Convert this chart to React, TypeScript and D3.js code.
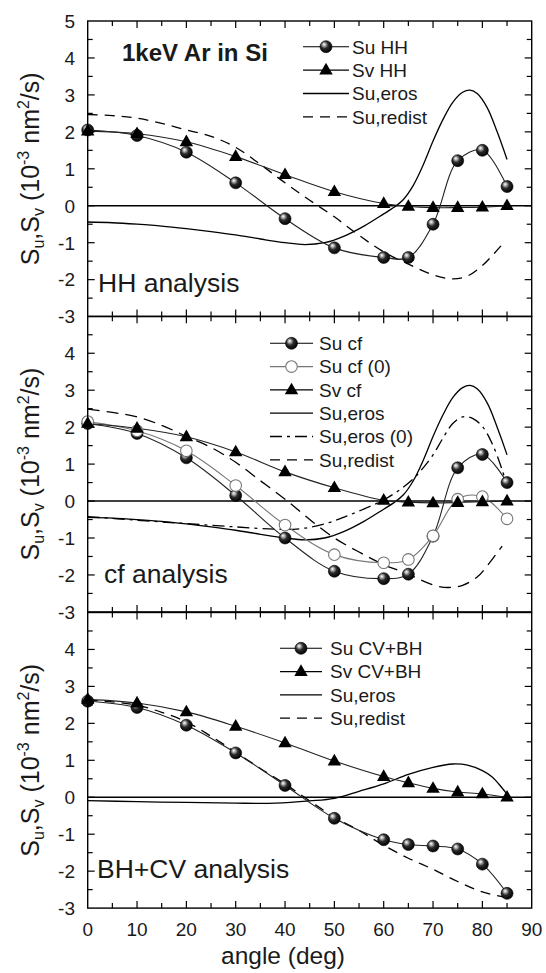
import React, { useEffect, useRef } from 'react';
import * as d3 from 'd3';

// measured angles (deg)
const angles = [0, 10, 20, 30, 40, 50, 60, 65, 70, 75, 80, 85];

// HH analysis
const suHH = [2.05, 1.9, 1.45, 0.62, -0.35, -1.14, -1.4, -1.4, -0.5, 1.22, 1.5, 0.52];
const svHH = [2.02, 1.95, 1.73, 1.33, 0.84, 0.38, 0.06, -0.02, -0.05, -0.05, -0.04, 0.0];

// cf analysis
const suCf = [2.1, 1.83, 1.17, 0.15, -1.0, -1.9, -2.1, -1.98, -0.95, 0.9, 1.26, 0.5];
const suCf0 = [2.15, 1.9, 1.36, 0.42, -0.65, -1.45, -1.67, -1.58, -0.94, 0.05, 0.12, -0.48];
const svCf = [2.1, 1.97, 1.74, 1.33, 0.79, 0.36, 0.02, -0.03, -0.05, -0.04, -0.02, 0.0];

// BH+CV analysis
const suBH = [2.6, 2.43, 1.95, 1.2, 0.32, -0.57, -1.15, -1.28, -1.32, -1.4, -1.81, -2.6];
const svBH = [2.65, 2.55, 2.31, 1.92, 1.47, 0.98, 0.56, 0.39, 0.24, 0.14, 0.09, 0.0];

// theory curves [angle, value]
const erosA: [number, number][] = [
  [0, -0.44], [5, -0.46], [10, -0.5], [15, -0.55], [20, -0.62], [25, -0.7], [30, -0.79],
  [35, -0.9], [40, -1.0], [44, -1.05], [48, -1.0], [52, -0.82], [56, -0.55], [60, -0.22],
  [62, -0.05], [64, 0.17], [66, 0.55], [68, 1.1], [70, 1.75], [72, 2.33], [74, 2.8],
  [76, 3.07], [77.5, 3.13], [79, 3.03], [81, 2.65], [83, 2.0], [85, 1.25],
];
const eros0: [number, number][] = [
  [0, -0.42], [10, -0.52], [20, -0.61], [30, -0.7], [38, -0.76], [43, -0.75], [48, -0.62],
  [53, -0.38], [58, -0.1], [60, 0.03], [63, 0.28], [66, 0.6], [68, 0.9], [70, 1.25],
  [72, 1.7], [74, 2.1], [76, 2.28], [78, 2.24], [80, 2.02], [82, 1.55], [84, 0.85], [85, 0.4],
];
const erosBH: [number, number][] = [
  [0, -0.09], [10, -0.12], [20, -0.14], [30, -0.16], [38, -0.16], [45, -0.1], [50, -0.03],
  [55, 0.16], [60, 0.36], [65, 0.62], [70, 0.81], [74, 0.9], [77, 0.87], [80, 0.72],
  [82, 0.55], [84, 0.25], [85, 0.08],
];
const redistHH: [number, number][] = [
  [0, 2.47], [5, 2.44], [10, 2.37], [15, 2.23], [20, 2.05], [25, 1.88], [30, 1.58],
  [35, 1.12], [40, 0.62], [45, 0.15], [50, -0.3], [55, -0.8], [60, -1.25], [65, -1.58],
  [70, -1.87], [74, -1.98], [77, -1.9], [80, -1.62], [82, -1.35], [84, -1.05],
];
const redistCf: [number, number][] = [
  [0, 2.49], [5, 2.4], [10, 2.28], [15, 2.05], [20, 1.75], [25, 1.45], [30, 1.05],
  [35, 0.55], [40, 0.05], [45, -0.5], [50, -1.0], [55, -1.38], [60, -1.72], [65, -1.98],
  [70, -2.27], [73, -2.34], [76, -2.28], [79, -2.05], [81, -1.75], [83, -1.4], [84, -1.22],
];
const redistBH: [number, number][] = [
  [0, 2.63], [5, 2.58], [10, 2.49], [15, 2.3], [20, 2.04], [25, 1.65], [30, 1.22],
  [35, 0.78], [40, 0.36], [45, -0.1], [50, -0.54], [55, -0.9], [60, -1.3], [65, -1.65],
  [70, -1.95], [75, -2.28], [80, -2.56], [85, -2.72],
];

const xTicks = [0, 10, 20, 30, 40, 50, 60, 70, 80, 90];

const font = 'Liberation Sans, Arial, Helvetica, sans-serif';
const ink = '#1a1a1a';

const panels = [
  {
    top: 21, label: 'HH analysis', labelX: 98, labelY: 292,
    yLabels: [5, 4, 3, 2, 1, 0, -1, -2, -3],
    curves: [{ pts: erosA, dash: null }, { pts: redistHH, dash: '10,7' }],
    series: [{ v: suHH, kind: 'ball' }, { v: svHH, kind: 'tri' }],
    legend: { x0: 303, x1: 349, tx: 352, y0: 46.7, dy: 23.4 },
    items: [['ball', 'Su HH'], ['tri', 'Sv HH'], ['solid', 'Su,eros'], ['dash', 'Su,redist']],
  },
  {
    top: 316.3, label: 'cf analysis', labelX: 104, labelY: 583,
    yLabels: [4, 3, 2, 1, 0, -1, -2, -3],
    curves: [{ pts: erosA, dash: null }, { pts: eros0, dash: '12,5,3,5' }, { pts: redistCf, dash: '12,7' }],
    series: [{ v: suCf, kind: 'ball' }, { v: suCf0, kind: 'open' }, { v: svCf, kind: 'tri' }],
    legend: { x0: 270, x1: 313, tx: 319, y0: 343.3, dy: 23.3 },
    items: [['ball', 'Su cf'], ['open', 'Su cf (0)'], ['tri', 'Sv cf'], ['solid', 'Su,eros'], ['dashdot', 'Su,eros (0)'], ['dash', 'Su,redist']],
  },
  {
    top: 612.5, label: 'BH+CV analysis', labelX: 97, labelY: 878,
    yLabels: [4, 3, 2, 1, 0, -1, -2, -3],
    curves: [{ pts: erosBH, dash: null }, { pts: redistBH, dash: '10,7' }],
    series: [{ v: suBH, kind: 'ball' }, { v: svBH, kind: 'tri' }],
    legend: { x0: 280, x1: 322, tx: 330, y0: 648.3, dy: 23.3 },
    items: [['ball', 'Su CV+BH'], ['tri', 'Sv CV+BH'], ['solid', 'Su,eros'], ['dash', 'Su,redist']],
  },
];

export default function App() {
  const ref = useRef<SVGSVGElement>(null);

  useEffect(() => {
    const width = 546;
    const height = 973;
    const left = 87.7;
    const right = 531.7;
    const panelH = 295.6;

    const svg = d3.select(ref.current).attr('width', width).attr('height', height);
    svg.selectAll('*').remove();

    const defs = svg.append('defs');
    const grad = defs.append('radialGradient').attr('id', 'ball')
      .attr('cx', 0.42).attr('cy', 0.4).attr('r', 0.62).attr('fx', 0.33).attr('fy', 0.3);
    grad.append('stop').attr('offset', '0%').attr('stop-color', '#ffffff');
    grad.append('stop').attr('offset', '18%').attr('stop-color', '#bbb');
    grad.append('stop').attr('offset', '50%').attr('stop-color', '#2a2a2a');
    grad.append('stop').attr('offset', '100%').attr('stop-color', '#000');

    const x = d3.scaleLinear().domain([0, 90]).range([left, right]);
    const tri = d3.symbol().type(d3.symbolTriangle).size(78);

    const drawMarker = (g: any, kind: string, cx: number, cy: number) => {
      if (kind === 'ball') {
        g.append('circle').attr('cx', cx).attr('cy', cy).attr('r', 6)
          .attr('fill', 'url(#ball)').attr('stroke', '#000').attr('stroke-width', 0.6);
      } else if (kind === 'open') {
        g.append('circle').attr('cx', cx).attr('cy', cy).attr('r', 5.8)
          .attr('fill', '#fff').attr('stroke', '#777').attr('stroke-width', 1.1);
      } else if (kind === 'tri') {
        g.append('path').attr('d', tri()).attr('transform', `translate(${cx},${cy + 0.5})`)
          .attr('fill', '#000');
      }
    };

    panels.forEach((p, pi) => {
      const y = d3.scaleLinear().domain([-3, 5]).range([p.top + panelH, p.top]);
      const g = svg.append('g');

      // zero line
      g.append('line').attr('x1', left).attr('x2', right).attr('y1', y(0)).attr('y2', y(0))
        .attr('stroke', '#000').attr('stroke-width', 1.4);

      const smooth = d3.line<[number, number]>()
        .x(d => x(d[0])).y(d => y(d[1]))
        .curve(d3.curveCatmullRom.alpha(0.5));

      p.curves.forEach(c => {
        g.append('path').datum(c.pts).attr('d', smooth)
          .attr('fill', 'none').attr('stroke', '#000').attr('stroke-width', 1.3)
          .attr('stroke-dasharray', c.dash);
      });

      p.series.forEach(s => {
        const pts = angles.map((a, i) => [a, s.v[i]] as [number, number]);
        g.append('path').datum(pts).attr('d', smooth)
          .attr('fill', 'none').attr('stroke', s.kind === 'open' ? '#777' : '#222')
          .attr('stroke-width', 1.1);
      });
      p.series.forEach(s => {
        angles.forEach((a, i) => drawMarker(g, s.kind, x(a), y(s.v[i])));
      });

      // frame
      g.append('rect').attr('x', left).attr('y', p.top).attr('width', right - left)
        .attr('height', panelH).attr('fill', 'none').attr('stroke', '#000').attr('stroke-width', 1.4);

      // x ticks top & bottom (inward)
      d3.range(5, 90, 5).forEach(a => {
        const len = a % 10 === 0 ? 7 : 5;
        g.append('line').attr('x1', x(a)).attr('x2', x(a)).attr('y1', p.top).attr('y2', p.top + len)
          .attr('stroke', '#000').attr('stroke-width', 1.2);
        g.append('line').attr('x1', x(a)).attr('x2', x(a)).attr('y1', p.top + panelH).attr('y2', p.top + panelH - len)
          .attr('stroke', '#000').attr('stroke-width', 1.2);
      });
      // y ticks left & right (inward)
      d3.range(-2.5, 5, 0.5).forEach(v => {
        const len = Number.isInteger(v) ? 7 : 5;
        g.append('line').attr('x1', left).attr('x2', left + len).attr('y1', y(v)).attr('y2', y(v))
          .attr('stroke', '#000').attr('stroke-width', 1.2);
        g.append('line').attr('x1', right).attr('x2', right - len).attr('y1', y(v)).attr('y2', y(v))
          .attr('stroke', '#000').attr('stroke-width', 1.2);
      });

      // y tick labels
      p.yLabels.forEach(v => {
        g.append('text').attr('x', 75).attr('y', y(v)).attr('dy', '0.36em')
          .attr('text-anchor', 'end').attr('font-size', 19).attr('font-family', font)
          .attr('fill', ink).text(v < 0 ? `-${Math.abs(v)}` : `${v}`);
      });

      // y axis label
      const yl = g.append('text')
        .attr('transform', `translate(39,${p.top + panelH / 2}) rotate(-90)`)
        .attr('text-anchor', 'middle').attr('font-size', 25).attr('font-family', font).attr('fill', ink);
      yl.append('tspan').text('S');
      yl.append('tspan').attr('font-size', 16).attr('dy', 5).text('u');
      yl.append('tspan').attr('dy', -5).text(',S');
      yl.append('tspan').attr('font-size', 16).attr('dy', 5).text('v');
      yl.append('tspan').attr('dy', -5).text(' (10');
      yl.append('tspan').attr('font-size', 16).attr('dy', -10).text('-3');
      yl.append('tspan').attr('dy', 10).text(' nm');
      yl.append('tspan').attr('font-size', 16).attr('dy', -10).text('2');
      yl.append('tspan').attr('dy', 10).text('/s)');

      // panel label
      g.append('text').attr('x', p.labelX).attr('y', p.labelY)
        .attr('font-size', 26.5).attr('font-family', font).attr('fill', ink).text(p.label);

      if (pi === 0) {
        g.append('text').attr('x', 122).attr('y', 61).attr('font-size', 24).attr('font-weight', 'bold')
          .attr('font-family', font).attr('fill', ink).text('1keV Ar in Si');
      }

      // legend
      const L = p.legend;
      p.items.forEach(([kind, label], i) => {
        const ly = L.y0 + i * L.dy;
        const dash = kind === 'dash' ? '10,7' : kind === 'dashdot' ? '12,5,3,5' : null;
        const isMarker = kind === 'ball' || kind === 'open' || kind === 'tri';
        g.append('line').attr('x1', L.x0).attr('x2', L.x1).attr('y1', ly).attr('y2', ly)
          .attr('stroke', kind === 'open' ? '#777' : '#000')
          .attr('stroke-width', isMarker ? 1.1 : 1.3)
          .attr('stroke-dasharray', dash);
        if (isMarker) drawMarker(g, kind, (L.x0 + L.x1) / 2, ly);
        g.append('text').attr('x', L.tx).attr('y', ly).attr('dy', '0.36em')
          .attr('font-size', 19).attr('font-family', font).attr('fill', ink).text(label);
      });

      // x tick labels on the bottom panel
      if (pi === panels.length - 1) {
        xTicks.forEach(t => {
          g.append('text').attr('x', x(t)).attr('y', p.top + panelH + 28)
            .attr('text-anchor', 'middle').attr('font-size', 19).attr('font-family', font)
            .attr('fill', ink).text(t);
        });
        g.append('text').attr('x', 283).attr('y', 964)
          .attr('text-anchor', 'middle').attr('font-size', 24.5).attr('font-family', font)
          .attr('fill', ink).text('angle (deg)');
      }
    });
  }, []);

  return (
    <>
      <style>{'body{margin:0;background:#fff}'}</style>
      <svg ref={ref} style={{ display: 'block' }}></svg>
    </>
  );
}
